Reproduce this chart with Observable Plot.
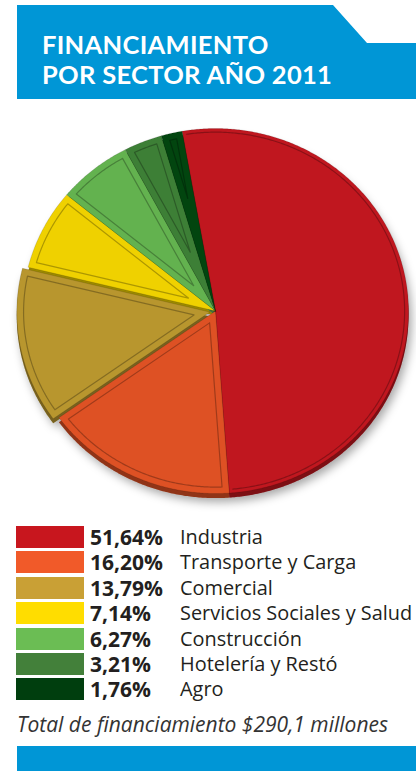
<!DOCTYPE html>
<html>
<head>
<meta charset="utf-8">
<script src="https://cdn.jsdelivr.net/npm/d3@7"></script>
<script src="https://cdn.jsdelivr.net/npm/@observablehq/plot@0.6"></script>
<style>
  html, body { margin: 0; padding: 0; background: #fff; }
  #page { position: relative; width: 416px; height: 771px; overflow: hidden; font-family: "Open Sans", sans-serif; color: #231f20; }
  #header { position: absolute; left: 17px; top: 5px; width: 399px; height: 94px; background: #0096d6;
            clip-path: polygon(0 0, 316px 0, 350px 38px, 399px 38px, 399px 94px, 0 94px); }
  .tl { position: absolute; left: 42px; color: #fff; font-family: Lato, sans-serif; font-weight: 700; font-size: 25.5px; letter-spacing: 0.3px; line-height: 30px; white-space: nowrap; }
  #chart { position: absolute; left: 0; top: 105px; }
  .row { position: absolute; left: 16px; height: 22px; line-height: 22px; white-space: nowrap; }
  .sw { position: absolute; left: 0; top: 0; width: 68px; height: 22px; }
  .pct { position: absolute; left: 74px; top: 0; font-weight: 700; font-size: 21px; }
  .lab { position: absolute; left: 164px; top: 0; font-size: 19.9px; }
  #footer { position: absolute; left: 17px; top: 712px; font-style: italic; font-size: 21px; line-height: 24px; white-space: nowrap; color: #333; }
  #bottombar { position: absolute; left: 17px; top: 746px; width: 399px; height: 25px; background: #0096d6; }
</style>
</head>
<body>
<div id="page">
  <div id="header"></div>
  <div id="title"></div>
  <div id="chart"></div>
  <div id="legend"></div>
  <div id="footer"></div>
  <div id="bottombar"></div>
</div>
<script>
// ---- Data ----
const titleLines = ["FINANCIAMIENTO", "POR SECTOR AÑO 2011"];
const sectors = ["Industria", "Transporte y Carga", "Comercial", "Servicios Sociales y Salud", "Construcción", "Hotelería y Restó", "Agro"];
const shares = [51.64, 16.20, 13.79, 7.14, 6.27, 3.21, 1.76];
const footerText = "Total de financiamiento $290,1 millones";

// ---- Styles ----
const pieColors = ["#c0171f", "#de5124", "#b8962e", "#efd100", "#63b24f", "#3d7f36", "#02450f"];
const legendColors = ["#c8161e", "#f15a29", "#c9a035", "#ffdd00", "#6bbd54", "#43803a", "#003e0e"];
const startDeg = -10;
const explode = {"Comercial": 0.03};

// ---- Title ----
const titleEl = document.getElementById("title");
titleLines.forEach((t, i) => {
  const d = document.createElement("div");
  d.className = "tl";
  d.style.top = (29 + i * 30) + "px";
  d.textContent = t;
  titleEl.appendChild(d);
});

// ---- Pie geometry from data ----
const rad = d => d * Math.PI / 180;
let cum = 0;
const slices = sectors.map((s, i) => {
  const a0 = rad(startDeg + cum / 100 * 360);
  cum += shares[i];
  const a1 = rad(startDeg + cum / 100 * 360);
  return {sector: s, a0, a1};
});
const step = rad(0.5);
const faces = [], insets = [], rims = [];
for (const sl of slices) {
  const mid = (sl.a0 + sl.a1) / 2;
  const e = explode[sl.sector] || 0;
  const ox = e * Math.sin(mid), oy = e * Math.cos(mid);
  const arc = (r, b0, b1, dy = 0) => {
    const pts = [];
    const n = Math.max(2, Math.ceil((b1 - b0) / step));
    for (let k = 0; k <= n; k++) {
      const a = b0 + (b1 - b0) * k / n;
      pts.push({sector: sl.sector, x: ox + r * Math.sin(a), y: oy + dy + r * Math.cos(a)});
    }
    return pts;
  };
  faces.push({sector: sl.sector, x: ox, y: oy}, ...arc(1, sl.a0, sl.a1), {sector: sl.sector, x: ox, y: oy});
  rims.push({sector: sl.sector, x: ox, y: oy - 0.025}, ...arc(1, sl.a0, sl.a1, -0.025), {sector: sl.sector, x: ox, y: oy - 0.025});
  // inset bevel outline (arc only for the reflex slice)
  const span = sl.a1 - sl.a0;
  if (span < Math.PI * 0.95) {
    const d = 0.035, R = 1 - d;
    const ad = d / Math.sin(span / 2);
    const apex = {sector: sl.sector, x: ox + ad * Math.sin(mid), y: oy + ad * Math.cos(mid)};
    const phi = Math.asin(d / R);
    insets.push(apex, ...arc(R, sl.a0 + phi, sl.a1 - phi), apex);
  } else {
    const d = 0.02, R = 1 - d;
    const phi = Math.asin(d / R);
    insets.push(...arc(R, sl.a0 + phi, sl.a1 - phi));
  }
}

const plot = Plot.plot({
  width: 416,
  height: 410,
  marginLeft: 22,
  marginRight: 8,
  marginTop: 23,
  marginBottom: 22,
  x: {domain: [-1, 1], axis: null},
  y: {domain: [-1, 1], axis: null},
  color: {domain: sectors, range: pieColors},
  marks: [
    Plot.line(rims, {x: "x", y: "y", z: "sector", fill: "sector", stroke: "none"}),
    Plot.line(rims, {x: "x", y: "y", z: "sector", fill: "#000", fillOpacity: 0.35, stroke: "none"}),
    Plot.line(faces, {x: "x", y: "y", z: "sector", fill: "sector", stroke: "#000", strokeOpacity: 0.12, strokeWidth: 1}),
    Plot.line(insets, {x: "x", y: "y", z: "sector", stroke: "#000", strokeOpacity: 0.28, strokeWidth: 1.2})
  ]
});
const groups = plot.querySelectorAll('g[aria-label="line"]');
if (groups[0]) groups[0].style.filter = "drop-shadow(3px 4px 5px rgba(0,0,0,0.35))";
document.getElementById("chart").appendChild(plot);

// ---- Legend ----
const legend = document.getElementById("legend");
sectors.forEach((s, i) => {
  const row = document.createElement("div");
  row.className = "row";
  row.style.top = (526 + i * 25.4) + "px";
  row.innerHTML = `<div class="sw" style="background:${legendColors[i]}"></div>` +
    `<span class="pct">${shares[i].toFixed(2).replace(".", ",")}%</span>` +
    `<span class="lab">${s}</span>`;
  legend.appendChild(row);
});
document.getElementById("footer").textContent = footerText;
</script>
</body>
</html>
